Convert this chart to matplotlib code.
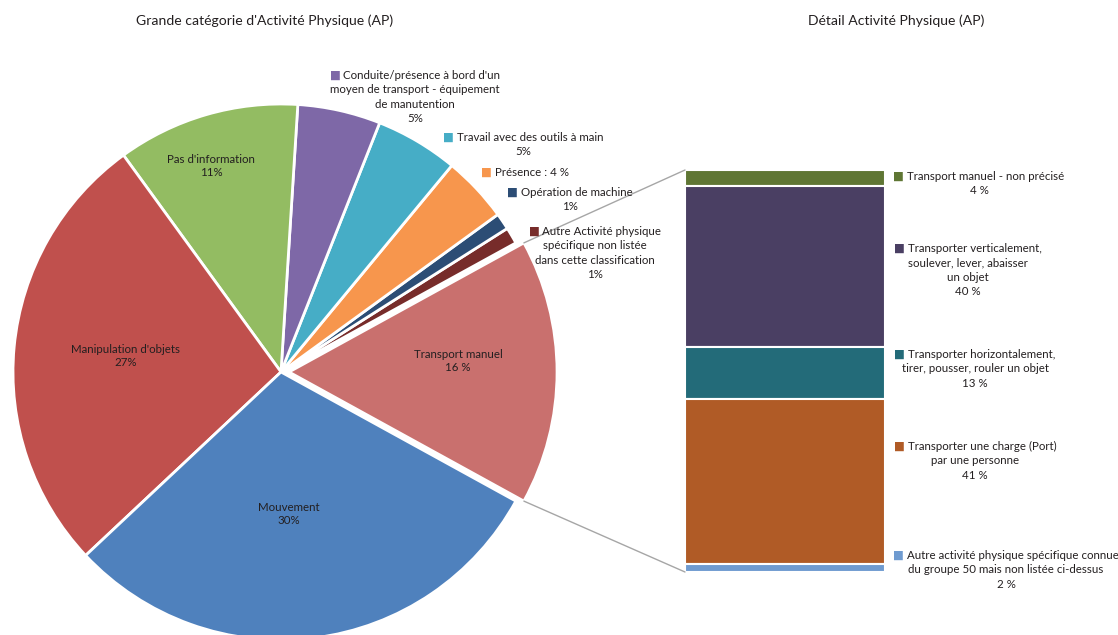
import matplotlib.pyplot as plt
import numpy as np
from matplotlib.patches import ConnectionPatch

plt.rcParams['font.family'] = ['Lato', 'DejaVu Sans']

W, H = 1118, 635

# main categories, counter-clockwise starting from "Transport manuel"
pie_labels = ["Transport manuel",
              "Autre Activité physique\nspécifique non listée\ndans cette classification",
              "Opération de machine",
              "Présence",
              "Travail avec des outils à main",
              "Conduite/présence à bord d'un\nmoyen de transport - équipement\nde manutention",
              "Pas d'information",
              "Manipulation d'objets",
              "Mouvement"]
pie_values = [16, 1, 1, 4, 5, 5, 11, 27, 30]
pie_fmt = ["\n{} %", "\n{}%", "\n{}%", " : {} %", "\n{}%", "\n{}%", "\n{}%", "\n{}%", "\n{}%"]
pie_colors = ["#C9706E", "#772C2A", "#2C4D75", "#F7964D", "#46ADC6",
              "#7E68A7", "#93BC62", "#C0504D", "#4F81BD"]
pie_explode = [0.03, 0, 0, 0, 0, 0, 0, 0, 0]

# detail of "Transport manuel", top to bottom
bar_labels = ["Transport manuel - non précisé",
              "Transporter verticalement,\nsoulever, lever, abaisser\nun objet",
              "Transporter horizontalement,\ntirer, pousser, rouler un objet",
              "Transporter une charge (Port)\npar une personne",
              "Autre activité physique spécifique connue\ndu groupe 50 mais non listée ci-dessus"]
bar_values = [4, 40, 13, 41, 2]
bar_colors = ["#5F7634", "#4A3F63", "#236B79", "#B05B26", "#6F9BD0"]

TXT = "#231F20"
FS = 8.3
LH = FS * 1.25 * 100 / 72  # line height in px


def fpos(x, y):
    return x / W, 1 - y / H


fig = plt.figure(figsize=(W / 100, H / 100), dpi=100)
renderer = fig.canvas.get_renderer()

# pie: centre (281, 372) px, radius 268 px
cx, cy, r = 281, 372, 268
m = 1.15
axp = fig.add_axes([(cx - m * r) / W, (H - cy - m * r) / H, 2 * m * r / W, 2 * m * r / H])
wedges, _ = axp.pie(pie_values, colors=pie_colors, explode=pie_explode,
                    startangle=-28.8, counterclock=True,
                    wedgeprops=dict(edgecolor="white", linewidth=2, clip_on=False))
axp.set_xlim(-m, m)
axp.set_ylim(-m, m)
axp.set_aspect('equal')
axp.axis('off')

# labels inside the big slices (pie data coords)
inside = {0: (0.66, 0.04), 6: (-0.26, 0.77), 7: (-0.58, 0.06), 8: (0.03, -0.53)}
for i, (x, y) in inside.items():
    axp.text(x, y, pie_labels[i] + pie_fmt[i].format(pie_values[i]),
             ha='center', va='center', fontsize=FS, color=TXT, linespacing=1.25)


def text_width(s, **kw):
    t = fig.text(0, 0, s, fontsize=FS, **kw)
    w = t.get_window_extent(renderer).width
    t.remove()
    return w


def square_label(x, y, text, color):
    # centred lines, the first one led by a coloured square
    lines = text.split("\n")
    wsq = text_width("■ ")
    for k, line in enumerate(lines):
        yb = y + k * LH
        if k == 0:
            w = wsq + text_width(line)
            x0 = x - w / 2
            fig.text(*fpos(x0, yb), "■", ha='left', va='baseline',
                     fontsize=FS, color=color)
            fig.text(*fpos(x0 + wsq, yb), line, ha='left', va='baseline',
                     fontsize=FS, color=TXT)
        else:
            fig.text(*fpos(x, yb), line, ha='center', va='baseline',
                     fontsize=FS, color=TXT)


# labels outside the small slices: (index, centre x, first baseline y) in px
outside = [(5, 415, 79), (4, 523, 141), (3, 525, 176), (2, 570, 196), (1, 595, 235)]
for i, x, y in outside:
    square_label(x, y, pie_labels[i] + pie_fmt[i].format(pie_values[i]), pie_colors[i])

# stacked bar
bx0, bx1, by0, by1 = 685, 885, 170, 572
axb = fig.add_axes([bx0 / W, (H - by1) / H, (bx1 - bx0) / W, (by1 - by0) / H])
bottoms = np.concatenate([[0], np.cumsum(bar_values)[:-1]])
axb.bar([0] * len(bar_values), bar_values, bottom=bottoms, width=1,
        color=bar_colors, edgecolor="white", linewidth=1.5)
axb.set_xlim(-0.5, 0.5)
axb.set_ylim(100, 0)
axb.axis('off')

bar_label_pos = [(979, 180), (968, 252), (975, 358), (975, 450), (1006, 559)]
for lab, v, c, (x, y) in zip(bar_labels, bar_values, bar_colors, bar_label_pos):
    square_label(x, y, lab + "\n{} %".format(v), c)

# connectors from the exploded slice to the bar
w = wedges[0]
for theta, yb in [(w.theta2, 0), (w.theta1, 100)]:
    px = w.center[0] + w.r * np.cos(np.radians(theta))
    py = w.center[1] + w.r * np.sin(np.radians(theta))
    con = ConnectionPatch(xyA=(px, py), coordsA=axp.transData,
                          xyB=(-0.5, yb), coordsB=axb.transData,
                          color="#A6A6A6", linewidth=1)
    fig.add_artist(con)

fig.text(*fpos(265, 21), "Grande catégorie d'Activité Physique (AP)", ha='center',
         va='center', fontsize=10.1, color=TXT)
fig.text(*fpos(896, 21), "Détail Activité Physique (AP)", ha='center',
         va='center', fontsize=10.1, color=TXT)

fig.savefig("out.png", dpi=100, facecolor="white")
